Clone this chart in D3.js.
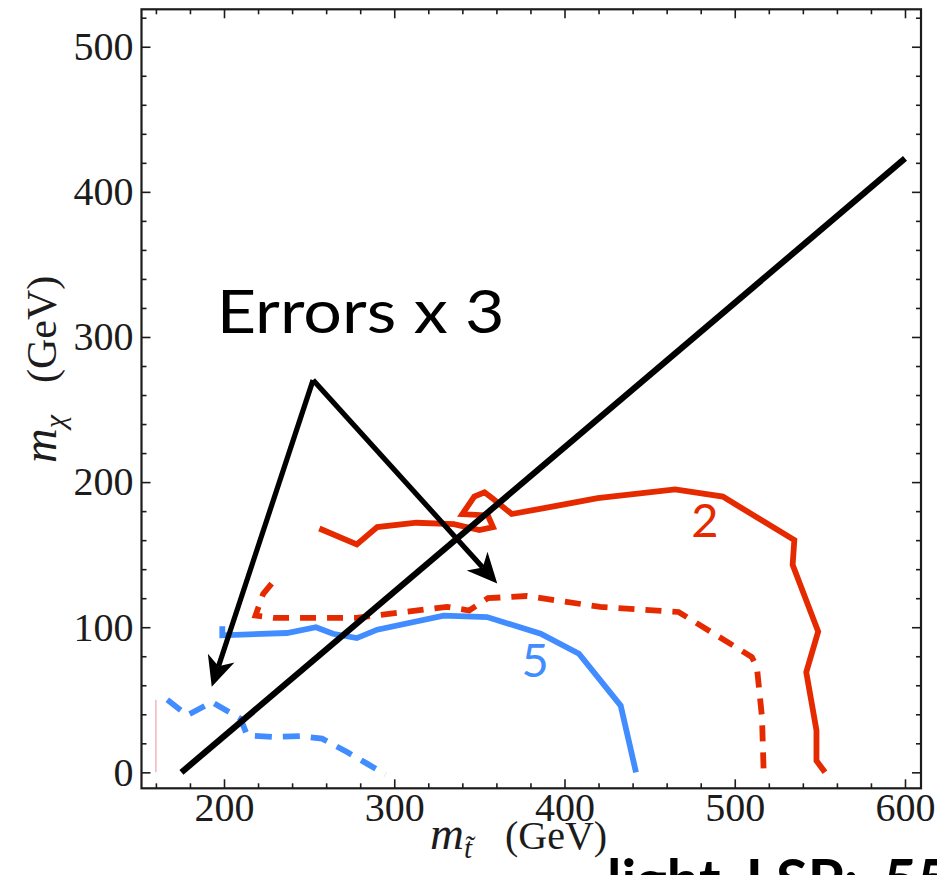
<!DOCTYPE html>
<html>
<head>
<meta charset="utf-8">
<script src="https://cdn.jsdelivr.net/npm/d3@7"></script>
<style>
  body { margin: 0; background: #fff; }
  svg { display: block; }
</style>
</head>
<body>
<svg id="chart" width="937" height="875"></svg>
<script>
// ---- axis ticks ----
const xTicks = [200, 300, 400, 500, 600];
const yTicks = [0, 100, 200, 300, 400, 500];
const xMinor = d3.range(160, 601, 20);
const yMinor = d3.range(0, 521, 20);

// ---- exclusion contours (m_stop, m_chi) in GeV ----
const contour2Solid = [
  [256, 168], [278, 157], [290, 169], [313, 172], [335, 171], [350, 167],
  [358, 169], [355, 177], [340, 178], [347, 190], [353, 193], [358, 188.5],
  [369, 178], [388, 182], [419.5, 189], [465, 195], [493, 190], [535, 160],
  [534, 143], [549, 97], [542, 69], [548, 29], [548, 8], [553, 0]
];
const contour2Dashed = [
  [228, 130], [223, 123], [218.5, 108], [229, 106.5], [278, 106.5],
  [331, 114], [344, 111.5], [355, 120], [378, 121.5], [421, 114],
  [467, 110.5], [510, 79.5], [513, 72.5], [516, 38], [517, 0]
];
const contour5Solid = [
  [199, 100.6], [199, 94.4], [237, 96], [254, 100], [264, 95.5], [278, 92.5],
  [290, 98.3], [329, 108], [354.5, 107], [386, 95.5], [408.5, 81.7],
  [433, 46], [442, 0]
];
const contour5Dashed = [
  [166.7, 50], [178.4, 39.3], [193, 48.4], [209.7, 37], [213.6, 25.5],
  [229, 24.3], [245, 25], [257.6, 23.2], [272.3, 14], [284, 6], [294.8, -1.5]
];
const edgeMarker = [[160, 0], [160, 50]];
// kinematic boundary m_chi = m_stop - m_top
const topLine = [[175, 0], [600, 423]];

// ---- annotations ----
const contourLabels = [
  { text: "2", pos: [482.5, 162], color: "red" },
  { text: "5", pos: [382.7, 65.7], color: "blue" }
];
const noteText = "Errors x 3";
const notePos = [195.7, 302.7];
const arrowFrom = [252.3, 270.3];
const arrowTips = [[192.8, 59.0], [360.5, 130.2]];
const footerText = "light LSP: 55 GeV";

// ---- layout ----
const W = 937, H = 875;
const frame = { left: 141.5, right: 921, top: 9.3, bottom: 788.3 };
const colors = { red: "#e52a00", blue: "#418cff", ink: "#1c1c1c" };
const serif = "'Liberation Serif', 'DejaVu Serif', serif";
const sans = "Lato, 'Open Sans', 'Noto Sans', sans-serif";

const svg = d3.select("#chart");
svg.append("rect").attr("width", W).attr("height", H).attr("fill", "#fff");

const x = d3.scaleLinear().domain([151.54, 609.4]).range([frame.left, frame.right]);
const y = d3.scaleLinear().domain([-11.0, 525.8]).range([frame.bottom, frame.top]);

// ---- axes: inward ticks on all four sides ----
function styleAxis(g, withLabels) {
  g.select(".domain").remove();
  g.selectAll(".tick line").attr("stroke", colors.ink).attr("stroke-width", 1.6);
  g.selectAll(".tick text")
    .attr("fill", colors.ink)
    .style("font-family", serif)
    .style("font-size", "40px");
  if (!withLabels) g.selectAll(".tick text").remove();
}

const axes = [
  { gen: d3.axisLeft(y), t: `translate(${frame.left},0)`, major: yTicks, minor: yMinor, labels: true, pad: 8 },
  { gen: d3.axisRight(y), t: `translate(${frame.right},0)`, major: yTicks, minor: yMinor, labels: false, pad: 8 },
  { gen: d3.axisBottom(x), t: `translate(0,${frame.bottom})`, major: xTicks, minor: xMinor, labels: true, pad: 4 },
  { gen: d3.axisTop(x), t: `translate(0,${frame.top})`, major: xTicks, minor: xMinor, labels: false, pad: 4 }
];
axes.forEach(a => {
  svg.append("g").attr("transform", a.t)
    .call(a.gen.tickValues(a.minor.filter(v => !a.major.includes(v))).tickSize(-5).tickFormat(""))
    .call(g => styleAxis(g, false));
  svg.append("g").attr("transform", a.t)
    .call(a.gen.tickValues(a.major).tickSize(-9).tickPadding(a.pad).tickFormat(d3.format("d")))
    .call(g => styleAxis(g, a.labels));
});

svg.append("rect")
  .attr("x", frame.left).attr("y", frame.top)
  .attr("width", frame.right - frame.left).attr("height", frame.bottom - frame.top)
  .attr("fill", "none").attr("stroke", colors.ink).attr("stroke-width", 2.2);

// ---- curves ----
const line = d3.line().x(d => x(d[0])).y(d => y(d[1]));

svg.append("path").datum(edgeMarker).attr("d", line)
  .attr("fill", "none").attr("stroke", "#f2a3a8").attr("stroke-width", 1.2);

const series = [
  { data: contour5Dashed, color: colors.blue, dash: "17,11" },
  { data: contour5Solid, color: colors.blue, dash: null },
  { data: contour2Dashed, color: colors.red, dash: "16,11" },
  { data: contour2Solid, color: colors.red, dash: null }
];
series.forEach(s => {
  svg.append("path").datum(s.data).attr("d", line)
    .attr("fill", "none")
    .attr("stroke", s.color)
    .attr("stroke-width", 5.8)
    .attr("stroke-linejoin", "miter")
    .attr("stroke-dasharray", s.dash);
});

svg.append("path").datum(topLine).attr("d", line)
  .attr("fill", "none").attr("stroke", "#000").attr("stroke-width", 6.2);

// ---- contour labels ----
contourLabels.forEach(l => {
  svg.append("text")
    .attr("x", x(l.pos[0])).attr("y", y(l.pos[1]))
    .attr("text-anchor", "middle")
    .attr("fill", colors[l.color])
    .style("font-family", sans)
    .style("font-size", "47px")
    .text(l.text);
});

// ---- arrows ----
const headLen = 30, headHalf = 14, notch = 0.72;
arrowTips.forEach(tip => {
  const x0 = x(arrowFrom[0]), y0 = y(arrowFrom[1]);
  const x1 = x(tip[0]), y1 = y(tip[1]);
  const len = Math.hypot(x1 - x0, y1 - y0);
  const ux = (x1 - x0) / len, uy = (y1 - y0) / len;
  const nx = -uy, ny = ux;
  const bx = x1 - headLen * ux, by = y1 - headLen * uy;
  const cx = x1 - headLen * notch * ux, cy = y1 - headLen * notch * uy;
  svg.append("line")
    .attr("x1", x0).attr("y1", y0).attr("x2", cx).attr("y2", cy)
    .attr("stroke", "#000").attr("stroke-width", 5.2);
  svg.append("path")
    .attr("d", `M${x1},${y1}L${bx + headHalf * nx},${by + headHalf * ny}L${cx},${cy}L${bx - headHalf * nx},${by - headHalf * ny}Z`)
    .attr("fill", "#000");
});

svg.append("text")
  .attr("x", x(notePos[0])).attr("y", y(notePos[1]))
  .attr("fill", "#000")
  .attr("textLength", 288).attr("lengthAdjust", "spacingAndGlyphs")
  .style("font-family", sans)
  .style("font-size", "60px")
  .text(noteText);

// ---- axis titles ----
const xTitle = svg.append("text").attr("x", 430).attr("y", 849)
  .attr("fill", colors.ink).style("font-family", serif).style("font-size", "40px");
xTitle.append("tspan").style("font-style", "italic").style("font-size", "47px").text("m");
xTitle.append("tspan").style("font-style", "italic").style("font-size", "29px").attr("dy", 9).text("t\u0303");
xTitle.append("tspan").attr("x", 505).attr("dy", -9).text("(GeV)");

const yTitle = svg.append("text")
  .attr("transform", "translate(56,463) rotate(-90)")
  .attr("fill", colors.ink).style("font-family", serif).style("font-size", "42px");
yTitle.append("tspan").style("font-style", "italic").style("font-size", "48px").text("m");
yTitle.append("tspan").style("font-style", "italic").style("font-size", "30px").attr("dy", 9).text("\u03C7");
yTitle.append("tspan").attr("x", 80).attr("dy", -9).text("(GeV)");

// ---- footer caption ----
svg.append("text")
  .attr("x", 607).attr("y", 901)
  .attr("fill", "#000")
  .style("font-family", sans)
  .style("font-weight", 700)
  .style("font-size", "58px")
  .style("word-spacing", "11px")
  .text(footerText);
</script>
</body>
</html>
